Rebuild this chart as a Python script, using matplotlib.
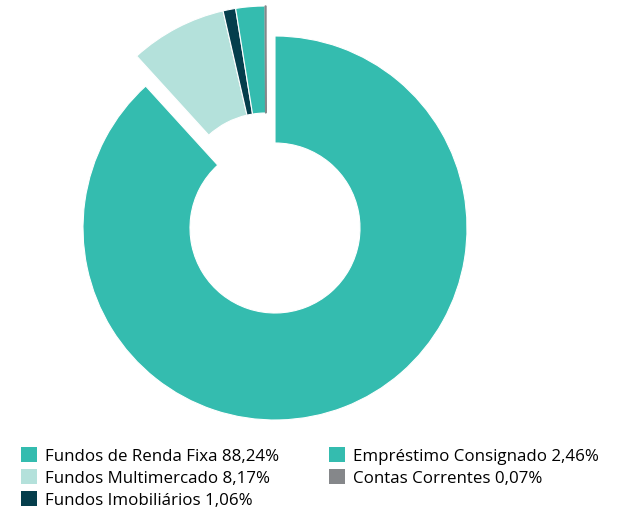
import matplotlib.pyplot as plt

plt.rcParams['font.family'] = ['Open Sans', 'DejaVu Sans']

labels = ["Fundos de Renda Fixa", "Fundos Multimercado", "Fundos Imobiliários",
          "Empréstimo Consignado", "Contas Correntes"]
values = [88.24, 8.17, 1.06, 2.46, 0.07]
value_text = ["88,24%", "8,17%", "1,06%", "2,46%", "0,07%"]
colors = ["#34bcaf", "#b4e1db", "#053e4c", "#34bcaf", "#85878a"]

fig = plt.figure(figsize=(6.24, 5.10), dpi=100)
ax = fig.add_axes([0, 0, 1, 1])

cx, cy = 275, 281
r_out, r_in = 192, 85
wedges, _ = ax.pie(values, colors=colors, startangle=90, counterclock=False,
                   center=(cx, cy), radius=r_out, frame=True,
                   wedgeprops=dict(width=r_out - r_in, edgecolor="white", linewidth=0.8))
ax.set_xlim(0, 624)
ax.set_ylim(0, 510)
ax.set_aspect("equal")
ax.axis("off")

# small slices pulled out together as one group
for w in wedges[1:]:
    w.set_center((cx - 9, cy + 30))
wedges[-1].set_edgecolor(colors[-1])
wedges[-1].set_linewidth(1.0)

leg_labels = [f"{l} {v}" for l, v in zip(labels, value_text)]
leg = fig.legend(wedges, leg_labels, ncol=2, loc="lower left",
                 bbox_to_anchor=(0.012, -0.025), frameon=False, fontsize=12.2,
                 handlelength=0.95, handleheight=0.95, handletextpad=0.45,
                 columnspacing=2.95, labelspacing=0.28, borderpad=0.3)
for h in leg.legend_handles:
    h.set_edgecolor("none")
    h.set_linewidth(0)

fig.savefig("out.png", dpi=100)
